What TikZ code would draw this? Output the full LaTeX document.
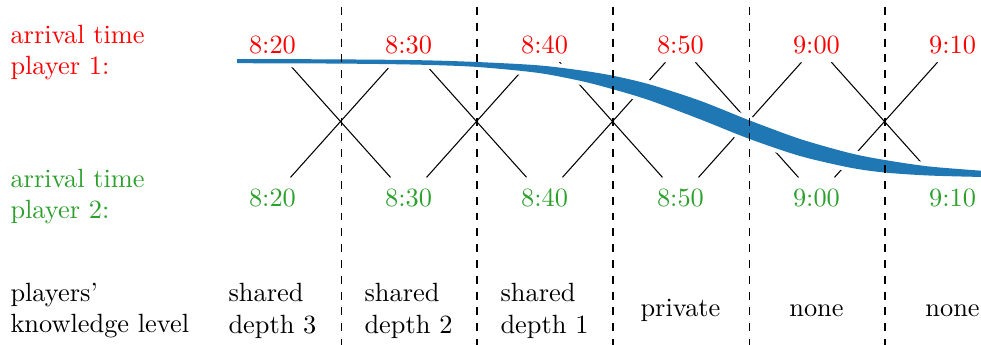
\documentclass[tikz,border=0pt]{standalone}
\definecolor{p1red}{RGB}{255,0,0}
\definecolor{p2green}{RGB}{44,160,44}
\definecolor{curveblue}{RGB}{31,119,180}
\begin{document}
\begin{tikzpicture}[
  p1/.style={text=p1red,anchor=base},
  p2/.style={text=p2green,anchor=base},
  rowlabel/.style={anchor=west,inner sep=0pt,align=left},
  knowlabel/.style={align=left},
  xline/.style={thin,shorten <=0.3cm,shorten >=0.36cm},
  sepline/.style={thin,dashed}]
\useasboundingbox (0,0) rectangle (13.08,4.6);
% row labels
\node[rowlabel,p1,anchor=west] (lab1) at (0.133,3.9) {arrival time\\player 1:};
\node[rowlabel,p2,anchor=west] (lab2) at (0.133,1.977) {arrival time\\player 2:};
\node[rowlabel] (labk) at (0.133,0.461) {players'\\knowledge level};
% arrival times
\node[p1] (t1) at (3.633,3.88) {8:20};
\node[p1] (t2) at (5.447,3.88) {8:30};
\node[p1] (t3) at (7.26,3.88) {8:40};
\node[p1] (t4) at (9.073,3.88) {8:50};
\node[p1] (t5) at (10.886,3.88) {9:00};
\node[p1] (t6) at (12.7,3.88) {9:10};
\node[p2] (b1) at (3.633,1.853) {8:20};
\node[p2] (b2) at (5.447,1.853) {8:30};
\node[p2] (b3) at (7.26,1.853) {8:40};
\node[p2] (b4) at (9.073,1.853) {8:50};
\node[p2] (b5) at (10.886,1.853) {9:00};
\node[p2] (b6) at (12.7,1.853) {9:10};
% knowledge
\node[knowlabel] (k1) at (3.633,0.455) {shared\\depth 3};
\node[knowlabel] (k2) at (5.447,0.455) {shared\\depth 2};
\node[knowlabel] (k3) at (7.26,0.455) {shared\\depth 1};
\node[knowlabel] (k4) at (9.073,0.455) {private};
\node[knowlabel] (k5) at (10.886,0.455) {none};
\node[knowlabel] (k6) at (12.7,0.455) {none};
% crossings
\draw[xline] (t1.center) -- (b2.center);
\draw[xline] (t2.center) -- (b1.center);
\draw[xline] (t2.center) -- (b3.center);
\draw[xline] (t3.center) -- (b2.center);
\draw[xline] (t3.center) -- (b4.center);
\draw[xline] (t4.center) -- (b3.center);
\draw[xline] (t4.center) -- (b5.center);
\draw[xline] (t5.center) -- (b4.center);
\draw[xline] (t5.center) -- (b6.center);
\draw[xline] (t6.center) -- (b5.center);
% band
\fill[curveblue,preaction={draw=white,line width=3pt}]
  plot[smooth] coordinates {(3.16,3.813) (4.533,3.808) (5.6,3.797)
  (6.36,3.773) (7.16,3.73) (7.733,3.663) (8.173,3.59) (8.667,3.473)
  (9.333,3.257) (9.987,2.997) (10.667,2.747) (11.333,2.558) (11.8,2.466)
  (12.4,2.379) (13.15,2.319)}
  -- plot[smooth] coordinates {(13.15,2.239) (12.4,2.259) (11.8,2.299)
  (11.333,2.365) (10.667,2.52) (9.987,2.75) (9.333,3.01) (8.667,3.26)
  (8.173,3.41) (7.733,3.523) (7.16,3.63) (6.36,3.707) (5.6,3.737)
  (4.533,3.752) (3.16,3.757)} -- cycle;
% separators
\draw[sepline] (4.547,4.507) -- (4.547,0);
\draw[sepline] (6.36,4.507) -- (6.36,0);
\draw[sepline] (8.173,4.507) -- (8.173,0);
\draw[sepline] (9.987,4.507) -- (9.987,0);
\draw[sepline] (11.8,4.507) -- (11.8,0);
\end{tikzpicture}
\end{document}
